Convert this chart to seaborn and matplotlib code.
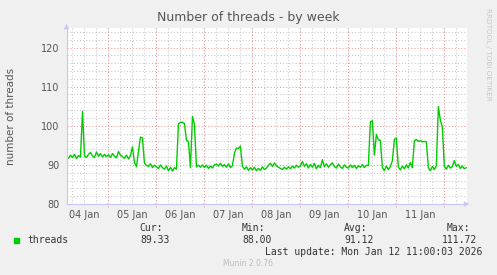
import numpy as np
import pandas as pd
import matplotlib
matplotlib.use("Agg")
import matplotlib.pyplot as plt
import matplotlib.dates as mdates
from matplotlib.ticker import MultipleLocator
import seaborn as sns

# ---- data: hourly thread counts, starting 2026-01-04 03:00 ----
start_time = "2026-01-04 03:00"
jan04 = [92.0, 91.7, 92.5, 91.9, 92.7, 91.6, 92.4, 92.0, 103.7, 92.3, 91.9,
         92.7, 93.2, 92.3, 91.9, 93.3, 92.2, 92.9, 92.0, 92.7, 92.1]
jan05 = [92.6, 91.9, 92.9, 92.2, 91.8, 93.4, 92.5, 92.1, 91.7, 92.5, 91.5, 92.4,
         94.6, 90.6, 89.5, 93.5, 97.1, 96.9, 90.4, 89.9, 89.6, 90.3, 89.3, 89.9]
jan06 = [89.5, 89.1, 90.0, 89.3, 88.9, 89.7, 88.5, 89.4, 88.4, 89.3, 88.9, 100.5,
         100.9, 100.9, 100.6, 96.3, 96.0, 89.3, 102.4, 100.3, 89.5, 89.9, 89.4, 90.0]
jan07 = [89.3, 89.9, 89.1, 89.7, 89.2, 90.0, 90.2, 89.7, 90.4, 89.6, 90.1, 89.4,
         90.3, 89.3, 89.8, 93.0, 94.3, 94.2, 94.8, 89.6, 88.9, 89.5, 88.6, 89.3]
jan08 = [88.7, 89.4, 88.5, 89.1, 88.6, 89.5, 88.8, 89.2, 89.9, 90.4, 89.6, 90.5,
         89.8, 89.4, 89.1, 88.8, 89.4, 88.9, 89.5, 89.0, 89.7, 89.2, 89.9, 89.4]
jan09 = [89.7, 90.9, 89.6, 90.3, 89.2, 90.1, 89.4, 90.4, 89.0, 89.9, 89.3, 91.3,
         89.5, 90.3, 89.4, 90.0, 90.5, 89.6, 89.2, 90.2, 89.5, 89.1, 90.0, 89.4]
jan10 = [89.2, 90.0, 89.3, 89.9, 89.1, 89.8, 89.4, 90.1, 89.3, 89.9, 89.8, 101.0,
         101.3, 92.5, 97.8, 96.4, 96.3, 89.3, 88.5, 89.7, 88.8, 89.6, 91.0, 96.5]
jan11 = [96.9, 89.4, 88.7, 89.7, 89.0, 90.0, 89.2, 90.6, 89.3, 96.2, 96.5, 96.0,
         96.2, 95.9, 96.0, 95.9, 89.3, 88.5, 89.6, 88.8, 89.8, 104.9, 101.5, 99.6]
jan12 = [89.6, 88.9, 89.9, 89.2, 89.6, 91.1, 89.6, 90.1, 89.1, 89.7, 89.0, 89.3]

day_labels = ["04 Jan", "05 Jan", "06 Jan", "07 Jan", "08 Jan", "09 Jan", "10 Jan", "11 Jan"]
series_name = "threads"
stat_names = ["Cur:", "Min:", "Avg:", "Max:"]
stat_values = ["89.33", "88.00", "91.12", "111.72"]
title = "Number of threads - by week"
ylabel = "number of threads"
last_update = "Last update: Mon Jan 12 11:00:03 2026"

values = jan04 + jan05 + jan06 + jan07 + jan08 + jan09 + jan10 + jan11 + jan12
times = pd.date_range(start_time, periods=len(values), freq="h")
df = pd.DataFrame({"time": times, "threads": values})

# ---- figure ----
sns.set_style("white")
plt.rcParams["font.family"] = ["DejaVu Sans"]
BG = "#F0F0F0"
TXT = "#555555"
AXC = "#C8C8F8"
GREY = "#C8C8C8"
RED = "#EE9A9A"
DOT = (0, (1, 2))

fig = plt.figure(figsize=(4.97, 2.75), dpi=100, facecolor=BG)
ax = fig.add_axes([66.5 / 497, 1 - 204 / 275, (467 - 66.5) / 497, (204 - 28) / 275])
ax.set_facecolor("white")

sns.lineplot(data=df, x="time", y="threads", ax=ax, color="#00CC00", linewidth=1.0)

ax.set_xlim(pd.Timestamp(start_time), pd.Timestamp("2026-01-12 11:20"))
ax.set_ylim(80, 125)

# y axis
ax.set_yticks([80, 90, 100, 110, 120])
ax.yaxis.set_minor_locator(MultipleLocator(2))
ax.tick_params(axis="y", which="major", length=3, color=RED, labelsize=7, labelcolor=TXT, pad=2)
ax.tick_params(axis="y", which="minor", length=0)
ax.grid(which="major", axis="y", color=RED, linestyle=DOT, linewidth=0.75)
ax.grid(which="minor", axis="y", color=GREY, linestyle=DOT, linewidth=0.75)

# x axis: labels at noon, grey grid every 6 h, red grid at midnight
noons = pd.date_range("2026-01-04 12:00", periods=len(day_labels), freq="D")
ax.set_xticks(noons)
ax.set_xticklabels(day_labels)
ax.xaxis.set_minor_locator(mdates.HourLocator(byhour=[0, 6, 12, 18]))
ax.xaxis.remove_overlapping_locs = False
ax.tick_params(axis="x", which="major", length=0, labelsize=7, labelcolor=TXT, pad=4)
ax.tick_params(axis="x", which="minor", length=2, color=GREY)
ax.grid(which="minor", axis="x", color=GREY, linestyle=DOT, linewidth=0.75)
ax.grid(which="major", axis="x", visible=False)
for m in pd.date_range("2026-01-05", "2026-01-12", freq="D"):
    ax.axvline(m, ymin=-0.015, ymax=1, color=RED, linestyle=DOT,
               linewidth=0.75, clip_on=False, zorder=1)
ax.set_axisbelow(True)

ax.set_xlabel("")
ax.set_ylabel(ylabel, fontsize=7.5, color=TXT)
ax.yaxis.set_label_coords(-0.125, 0.5)

for s in ["top", "right"]:
    ax.spines[s].set_visible(False)
for s in ["left", "bottom"]:
    ax.spines[s].set_color(AXC)
    ax.spines[s].set_linewidth(0.8)
ax.annotate("", xy=(1.013, 0), xytext=(0.99, 0), xycoords="axes fraction",
            arrowprops=dict(arrowstyle="-|>", color=AXC, lw=0.8, mutation_scale=7))
ax.annotate("", xy=(0, 1.04), xytext=(0, 0.99), xycoords="axes fraction",
            arrowprops=dict(arrowstyle="-|>", color=AXC, lw=0.8, mutation_scale=7))

# title & side texts
fig.text(0.5, 1 - 18 / 275, title, ha="center", va="center", fontsize=9, color=TXT)
fig.text(488 / 497, 1 - 54 / 275, "RRDTOOL / TOBI OETIKER", rotation=270, ha="center",
         va="center", fontsize=5.2, color="#C8C8C8")

# legend block
mono = "DejaVu Sans Mono"
fig.patches.append(plt.Rectangle((14 / 497, 1 - 243 / 275), 5 / 497, 5 / 275,
                                 transform=fig.transFigure, color="#00CC00", figure=fig))
fig.text(27 / 497, 1 - 240 / 275, series_name, ha="left", va="center",
         fontsize=7, family=mono, color="#333333")
stat_right = [170, 272, 374, 477]
head_right = [163, 265, 367, 470]
for name, val, hr, vr in zip(stat_names, stat_values, head_right, stat_right):
    fig.text(hr / 497, 1 - 228 / 275, name, ha="right", va="center",
             fontsize=7, family=mono, color="#333333")
    fig.text(vr / 497, 1 - 240 / 275, val, ha="right", va="center",
             fontsize=7, family=mono, color="#333333")
fig.text(482 / 497, 1 - 252 / 275, last_update, ha="right", va="center",
         fontsize=7, family=mono, color="#333333")
fig.text(248 / 497, 1 - 264 / 275, "Munin 2.0.76", ha="center", va="center",
         fontsize=5.5, color="#BBBBBB")

fig.savefig("out.png", dpi=100, facecolor=BG)
